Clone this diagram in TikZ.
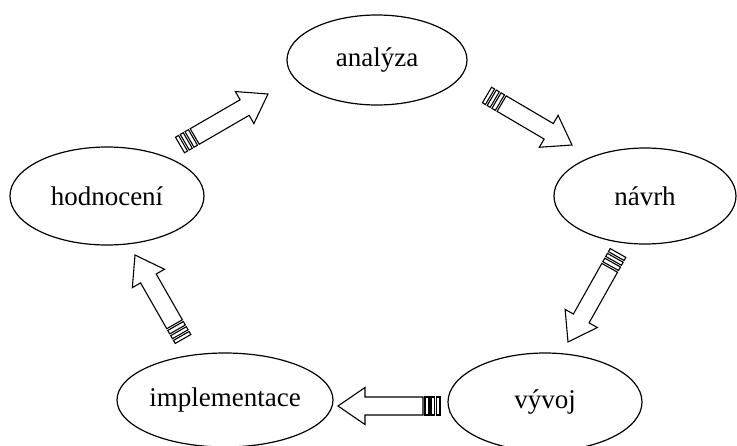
\documentclass[tikz,border=0pt]{standalone}
\usepackage{fontspec}
\setmainfont{Liberation Serif}
\usetikzlibrary{shapes.geometric,calc}

\tikzset{
  phase/.style={ellipse, draw, line width=1.2pt, inner sep=0pt,
    font=\fontsize{27}{30}\selectfont},
  arrowline/.style={draw, line width=1.1pt, line join=miter, fill=white}
}

% Striped block arrow from coordinate #1 (tail) to coordinate #2 (tip)
\newcommand\stripedarrow[2]{%
  \path let \p1=($(#2)-(#1)$) in
    \pgfextra{\pgfmathsetmacro\arrang{atan2(\y1,\x1)}%
              \pgfmathsetmacro\arrlen{veclen(\x1,\y1)}%
              \xdef\arrang{\arrang}\xdef\arrlen{\arrlen}};
  \begin{scope}[shift={(#1)}, rotate=\arrang, y=1pt]
    % tail stripes
    \draw[arrowline] (0,-9) rectangle (3.5,9);
    \draw[arrowline] (5.5,-9) rectangle (9,9);
    \draw[arrowline] (11,-9) rectangle (15,9);
    % shaft and head
    \draw[arrowline] (17,-9) -- ({\arrlen-27},-9) -- ({\arrlen-27},-18.5)
      -- ({\arrlen},0) -- ({\arrlen-27},18.5) -- ({\arrlen-27},9)
      -- (17,9) -- cycle;
  \end{scope}}

\begin{document}
\begin{tikzpicture}[x=1pt, y=-1pt]
  \useasboundingbox (0,0) rectangle (737,445);

  % the five phases of the cycle
  \node[phase, minimum width=180pt, minimum height=90pt] (analyza) at (377,60) {analýza};
  \node[phase, minimum width=182pt, minimum height=96pt] (navrh) at (645,196) {návrh};
  \node[phase, minimum width=194pt, minimum height=98pt] (vyvoj) at (545,402) {vývoj};
  \node[phase, minimum width=216pt, minimum height=94pt] (impl) at (225,400) {implementace};
  \node[phase, minimum width=194pt, minimum height=98pt] (hodn) at (107,196) {hodnocení};

  % arrow ends
  \coordinate (a1t) at (180,145);  \coordinate (a1h) at (268,94);
  \coordinate (a2t) at (487,95);   \coordinate (a2h) at (572,145);
  \coordinate (a3t) at (618,253);  \coordinate (a3h) at (568,342);
  \coordinate (a4t) at (440,406);  \coordinate (a4h) at (338,406);
  \coordinate (a5t) at (183,339);  \coordinate (a5h) at (135,255);

  \stripedarrow{a1t}{a1h}
  \stripedarrow{a2t}{a2h}
  \stripedarrow{a3t}{a3h}
  \stripedarrow{a4t}{a4h}
  \stripedarrow{a5t}{a5h}
\end{tikzpicture}
\end{document}
